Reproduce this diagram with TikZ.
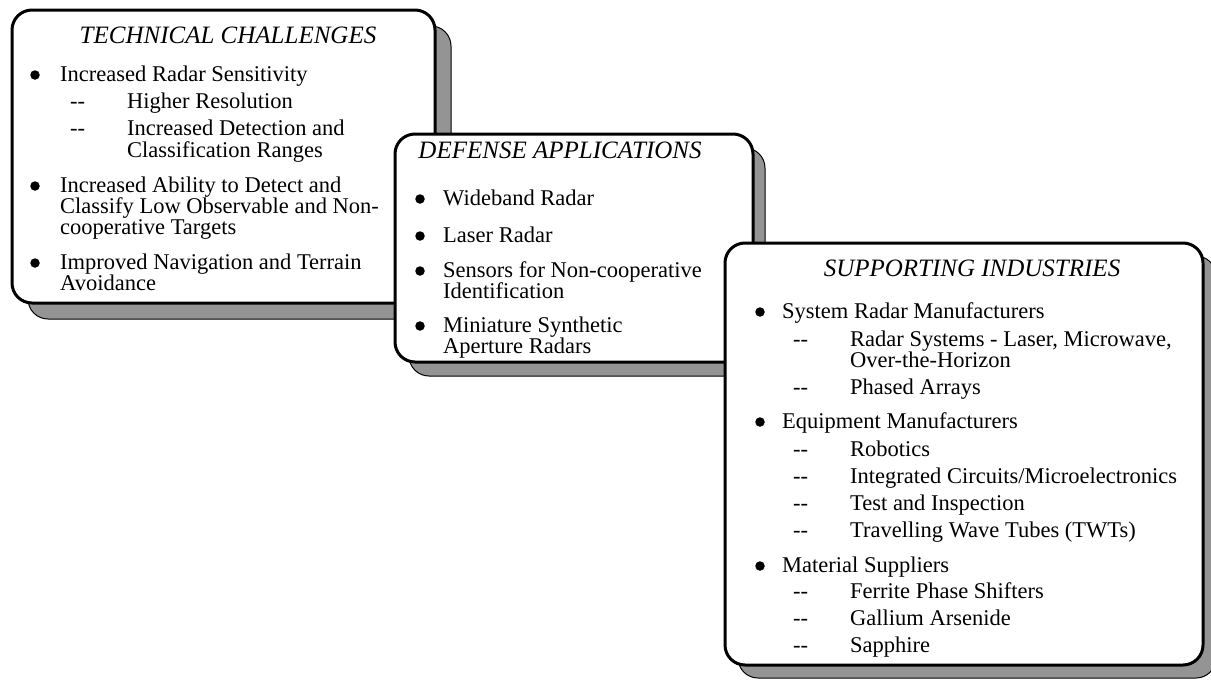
\documentclass[tikz,border=0pt]{standalone}
\usepackage{fontspec}
\setmainfont{Liberation Serif}
\begin{document}
\begin{tikzpicture}[x=1pt,y=-1pt,
  box/.style={draw=black, line width=3pt, fill=white, rounded corners=20pt},
  shadowbox/.style={draw=black, line width=1pt, fill=black!42, rounded corners=20pt},
  ttl/.style={font=\fontsize{25}{25}\selectfont\itshape, inner sep=0pt, anchor=base},
  txt/.style={font=\fontsize{22.5}{22}\selectfont, inner sep=0pt, anchor=base west},
  bul/.style={circle, fill=black, inner sep=0pt, minimum size=9.5pt},
]
\useasboundingbox (0,0) rectangle (1211,683);

% ---------- Box 1 ----------
\draw[shadowbox] (28,26) rectangle (451,319);
\draw[box] (12,10) rectangle (435,303);
\node[ttl] (tct) at (228,43) {TECHNICAL CHALLENGES};
\node[bul] (b11) at (35,75) {};
\node[txt] (t11) at (60,81) {Increased Radar Sensitivity};
\node[txt] (d11) at (70,108) {-{}-};
\node[txt] (s11) at (127,108) {Higher Resolution};
\node[txt] (d12) at (70,135) {-{}-};
\node[txt] (s12) at (127,135) {Increased Detection and};
\node[txt] (s12b) at (127,157) {Classification Ranges};
\node[bul] (b12) at (35,186) {};
\node[txt] (t12) at (60,192) {Increased Ability to Detect and};
\node[txt] (t12b) at (60,213) {Classify Low Observable and Non-};
\node[txt] (t12c) at (60,234) {cooperative Targets};
\node[bul] (b13) at (35,263) {};
\node[txt] (t13) at (60,269) {Improved Navigation and Terrain};
\node[txt] (t13b) at (60,290) {Avoidance};

% ---------- Box 2 ----------
\draw[shadowbox] (409,148) rectangle (765,376);
\draw[box] (395,134) rectangle (753,362);
\node[ttl] (dat) at (560,158) {DEFENSE APPLICATIONS};
\node[bul] (b21) at (420,199) {};
\node[txt] (t21) at (443,205) {Wideband Radar};
\node[bul] (b22) at (420,236) {};
\node[txt] (t22) at (443,242) {Laser Radar};
\node[bul] (b23) at (420,271) {};
\node[txt] (t23) at (443,277) {Sensors for Non-cooperative};
\node[txt] (t23b) at (443,298) {Identification};
\node[bul] (b24) at (420,326) {};
\node[txt] (t24) at (443,332) {Miniature Synthetic};
\node[txt] (t24b) at (443,353) {Aperture Radars};

% ---------- Box 3 ----------
\draw[shadowbox] (738,256) rectangle (1216,678);
\draw[box] (725,243) rectangle (1203,665);
\node[ttl] (sit) at (972,276) {SUPPORTING INDUSTRIES};
\node[bul] (b31) at (760,312) {};
\node[txt] (t31) at (782,318) {System Radar Manufacturers};
\node[txt] (d31) at (793,346) {-{}-};
\node[txt] (s31) at (850,346) {Radar Systems - Laser, Microwave,};
\node[txt] (s31b) at (850,367) {Over-the-Horizon};
\node[txt] (d32) at (793,394) {-{}-};
\node[txt] (s32) at (850,394) {Phased Arrays};
\node[bul] (b32) at (760,422) {};
\node[txt] (t32) at (782,428) {Equipment Manufacturers};
\node[txt] (d33) at (793,456) {-{}-};
\node[txt] (s33) at (850,456) {Robotics};
\node[txt] (d34) at (793,483) {-{}-};
\node[txt] (s34) at (850,483) {Integrated Circuits/Microelectronics};
\node[txt] (d35) at (793,510) {-{}-};
\node[txt] (s35) at (850,510) {Test and Inspection};
\node[txt] (d36) at (793,537) {-{}-};
\node[txt] (s36) at (850,537) {Travelling Wave Tubes (TWTs)};
\node[bul] (b33) at (760,566) {};
\node[txt] (t33) at (782,572) {Material Suppliers};
\node[txt] (d37) at (793,598) {-{}-};
\node[txt] (s37) at (850,598) {Ferrite Phase Shifters};
\node[txt] (d38) at (793,625) {-{}-};
\node[txt] (s38) at (850,625) {Gallium Arsenide};
\node[txt] (d39) at (793,652) {-{}-};
\node[txt] (s39) at (850,652) {Sapphire};
\end{tikzpicture}
\end{document}
